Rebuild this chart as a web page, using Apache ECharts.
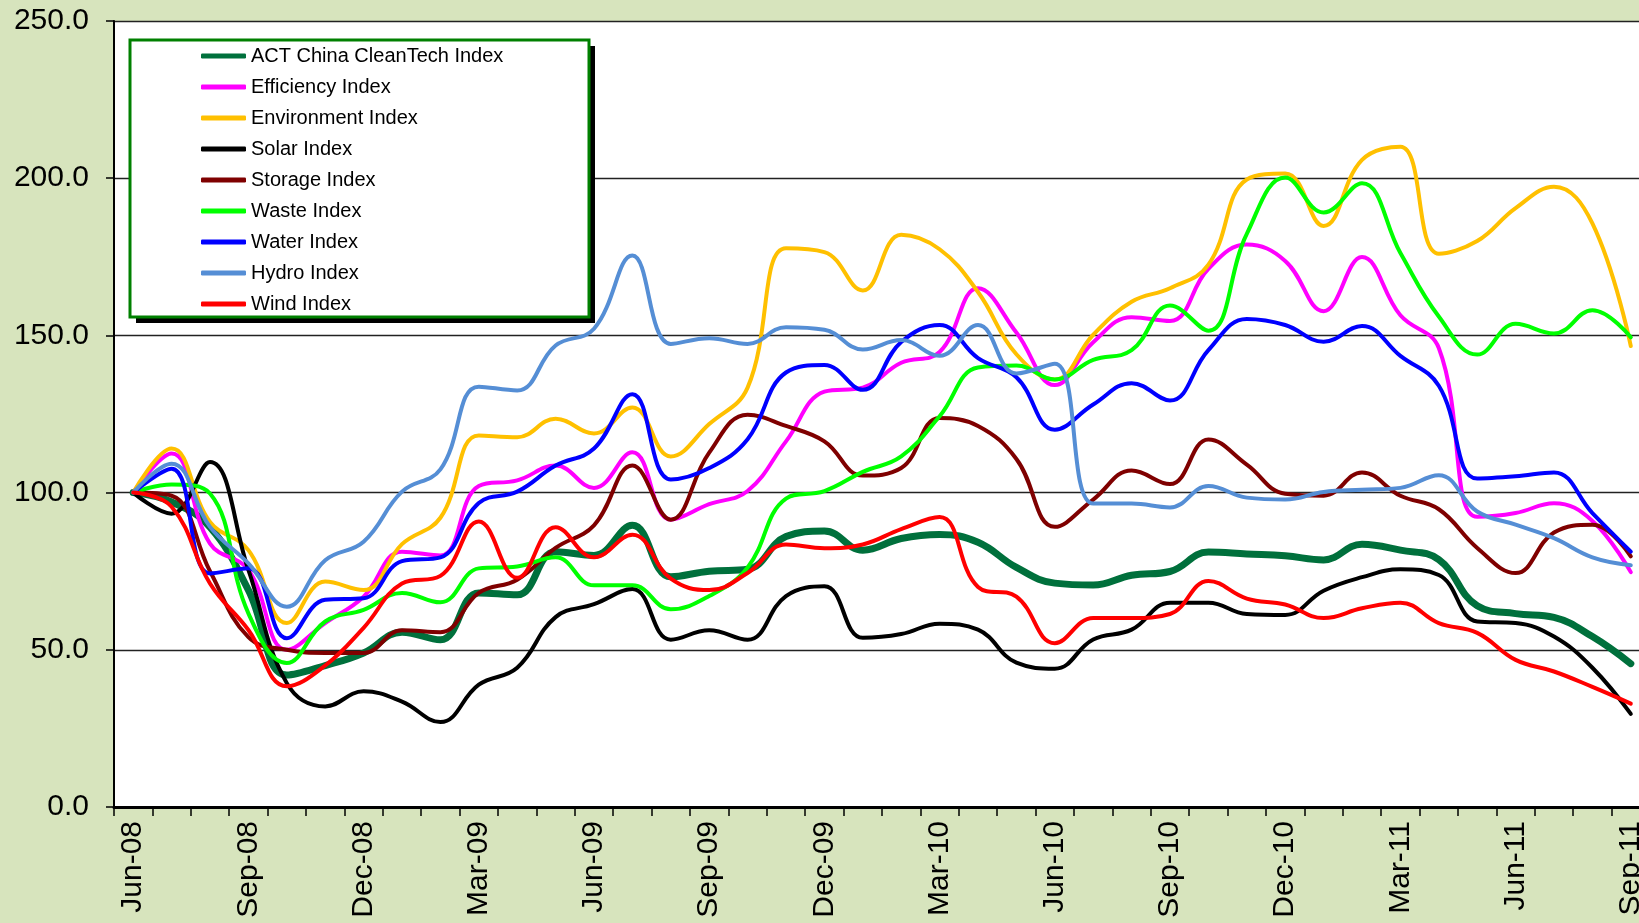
<!DOCTYPE html>
<html>
<head>
<meta charset="utf-8">
<title>ACT China CleanTech Indices</title>
<script src="https://cdn.jsdelivr.net/npm/echarts@6/dist/echarts.min.js"></script>
<style>
  html, body { margin: 0; padding: 0; background: #D7E4BD; }
  #chart { width: 1639px; height: 923px; }
</style>
</head>
<body>
<div id="chart"></div>
<script>
// 月份（类目轴）
const months = [
  'Jun-08', 'Jul-08', 'Aug-08', 'Sep-08', 'Oct-08', 'Nov-08', 'Dec-08',
  'Jan-09', 'Feb-09', 'Mar-09', 'Apr-09', 'May-09', 'Jun-09', 'Jul-09', 'Aug-09', 'Sep-09', 'Oct-09', 'Nov-09', 'Dec-09',
  'Jan-10', 'Feb-10', 'Mar-10', 'Apr-10', 'May-10', 'Jun-10', 'Jul-10', 'Aug-10', 'Sep-10', 'Oct-10', 'Nov-10', 'Dec-10',
  'Jan-11', 'Feb-11', 'Mar-11', 'Apr-11', 'May-11', 'Jun-11', 'Jul-11', 'Aug-11', 'Sep-11'
];

// 各指数数值
const actChina = [100, 97, 89, 69, 42, 45, 49, 55.6, 53.2, 68.1, 67.5, 81.2, 80, 89.6, 73.2, 75, 75.6, 86, 87.8, 81.7,
  85.4, 86.7, 84.2, 76.2, 71.2, 70.6, 73.7, 74.9, 81.1, 80.5, 79.9, 78.6, 83.6, 81.7, 78.7, 64, 61.5, 60.3, 54.2, 45.6];
const efficiency = [100, 112.4, 83.8, 75.4, 50, 58.5, 66.9, 81.2, 80, 102.1, 103.9, 108.6, 101.5, 112.8, 91.4, 96.3, 100.5, 116.3, 132.1, 133.4,
  141.3, 144.7, 165, 150.9, 134.2, 147.8, 155.8, 154.6, 171.2, 178.9, 173.7, 157.7, 174.9, 156.4, 146, 92.3, 93.5, 96.6, 91, 74.7];
const environment = [100, 114, 90.7, 81.7, 58.5, 71.7, 69, 83.6, 92, 118.2, 117.6, 123.5, 118.8, 127.1, 111.5, 121.8, 133.4, 177.7, 176.5, 164.3,
  182, 177.4, 163.8, 144, 136, 150.2, 160.7, 165, 172.5, 199.6, 201.5, 184.8, 205.8, 210, 176, 180, 190.5, 197.3, 185.6, 146.6];
const solar = [100, 93.3, 109.7, 75.4, 39.4, 32, 36.8, 33.5, 27, 38.9, 44.3, 60.4, 64.5, 69.3, 53.2, 56.2, 53.2, 67.1, 70.2, 53.8,
  55, 58.3, 56.4, 45.9, 44, 53.3, 56.4, 65, 65, 61.4, 61.1, 68.8, 73.1, 75.6, 73.8, 59, 58.5, 54.2, 44.3, 29.6];
const storage = [100, 99, 75, 54, 50, 49, 49, 56.2, 55.6, 68.1, 72.3, 82.4, 89.6, 108.6, 91.4, 112.7, 124.8, 121.2, 116.3, 105.4,
  107.8, 123.7, 121.2, 110.7, 89.1, 97.8, 107, 102.7, 116.9, 108.9, 99.6, 99, 106.4, 99, 94.7, 82.4, 74.4, 87.3, 89.8, 79.7];
const waste = [100, 102.6, 99.7, 61.6, 45.8, 59, 62.7, 68.1, 65.1, 75.9, 76.5, 79.4, 70.5, 70.5, 62.9, 67.1, 76.2, 98.1, 100.5, 106.6,
  111.5, 124.3, 139.8, 140.4, 136, 142.2, 145.3, 159.5, 151.5, 182.3, 200.2, 189.1, 198.4, 176.2, 156, 143.9, 153.7, 150.6, 158, 149.4];
const water = [100, 107.6, 74.3, 75.9, 53.7, 65.9, 66.4, 78.2, 79.4, 96.7, 100.3, 108.6, 114, 131.3, 104.2, 107.8, 117, 138.2, 140.6, 132.7,
  147.9, 153.3, 142.8, 136.7, 120, 128, 134.8, 129.3, 145.3, 155.2, 153.3, 148, 153, 143.5, 134, 104.5, 105.2, 106.4, 93.5, 81.2];
const hydro = [100, 109.2, 89.1, 77.5, 63.7, 78.5, 84.4, 100.3, 107.4, 133.7, 132.5, 146.8, 152.1, 175.4, 147.3, 149.1, 147.3, 152.6, 151.8, 145.5,
  148.5, 143.5, 153.3, 137.9, 141, 96.5, 96.5, 95.3, 102.1, 98.4, 97.8, 100.2, 100.9, 101.5, 105.5, 94, 89.8, 85.5, 79.4, 76.9];
const wind = [100, 95.5, 71.1, 56.3, 38.4, 45, 57, 71.1, 73.5, 90.8, 72.9, 89, 79.4, 86.6, 72.6, 69, 74.4, 83.5, 82.3, 83.5,
  88.4, 92.2, 70, 66.9, 52.1, 60.1, 60.1, 61.4, 71.9, 66.3, 64.4, 60.1, 63.2, 65, 58.5, 55.4, 46.8, 43.1, 38.2, 32.9];

const seriesNames = ['ACT China CleanTech Index', 'Efficiency Index', 'Environment Index', 'Solar Index',
  'Storage Index', 'Waste Index', 'Water Index', 'Hydro Index', 'Wind Index'];
const seriesData = [actChina, efficiency, environment, solar, storage, waste, water, hydro, wind];
const seriesColors = ['#00703C', '#FF00FF', '#FFC000', '#000000', '#7F0000', '#00FF00', '#0000FF', '#558ED5', '#FF0000'];

const FONT = '"Liberation Sans", Arial, sans-serif';

const chart = echarts.init(document.getElementById('chart'));

// 图例外框（白底绿边 + 黑色投影）
const legendBox = { x: 130, y: 40, width: 459, height: 277 };

const option = {
  backgroundColor: '#D7E4BD',
  animation: false,
  textStyle: { fontFamily: FONT },
  grid: {
    left: 114,
    top: 21,
    right: -11,
    bottom: 116,
    show: true,
    backgroundColor: '#ffffff',
    borderWidth: 0,
    outerBoundsMode: 'none'
  },
  graphic: [
    {
      type: 'rect',
      z: 3,
      shape: {
        x: legendBox.x + 6,
        y: legendBox.y + 6,
        width: legendBox.width,
        height: legendBox.height
      },
      style: { fill: '#000000' }
    },
    {
      type: 'rect',
      z: 3,
      shape: legendBox,
      style: { fill: '#ffffff', stroke: '#008000', lineWidth: 3 }
    }
  ],
  legend: {
    orient: 'vertical',
    left: 129,
    top: 39,
    z: 4,
    icon: 'roundRect',
    itemWidth: 45,
    itemHeight: 5,
    itemGap: 9,
    padding: [6, 85, 4, 72],
    textStyle: {
      fontFamily: FONT,
      fontSize: 20,
      lineHeight: 22,
      color: '#000'
    },
    data: seriesNames
  },
  xAxis: {
    type: 'category',
    data: months,
    boundaryGap: true,
    axisLine: { lineStyle: { color: '#000', width: 3 } },
    axisTick: {
      show: true,
      interval: 0,
      length: 9,
      lineStyle: { color: '#000', width: 1.5 }
    },
    axisLabel: {
      interval: 2,
      rotate: 90,
      margin: 14,
      fontSize: 30,
      fontFamily: FONT,
      color: '#000'
    },
    splitLine: { show: false }
  },
  yAxis: {
    type: 'value',
    min: 0,
    max: 250,
    interval: 50,
    axisLine: { show: true, lineStyle: { color: '#000', width: 2 } },
    axisTick: { show: true, length: 8, lineStyle: { color: '#000', width: 1.5 } },
    axisLabel: {
      margin: 25,
      fontSize: 30,
      fontFamily: FONT,
      color: '#000',
      formatter: (v) => v.toFixed(1)
    },
    splitLine: { show: true, lineStyle: { color: '#222', width: 1.3 } }
  },
  series: seriesNames.map((name, i) => ({
    name: name,
    type: 'line',
    data: seriesData[i],
    smooth: 0.42,
    showSymbol: false,
    symbol: 'none',
    color: seriesColors[i],
    lineStyle: {
      color: seriesColors[i],
      width: i === 0 ? 7 : 4,
      cap: 'round',
      join: 'round'
    },
    emphasis: { disabled: true }
  }))
};

chart.setOption(option);
</script>
</body>
</html>
